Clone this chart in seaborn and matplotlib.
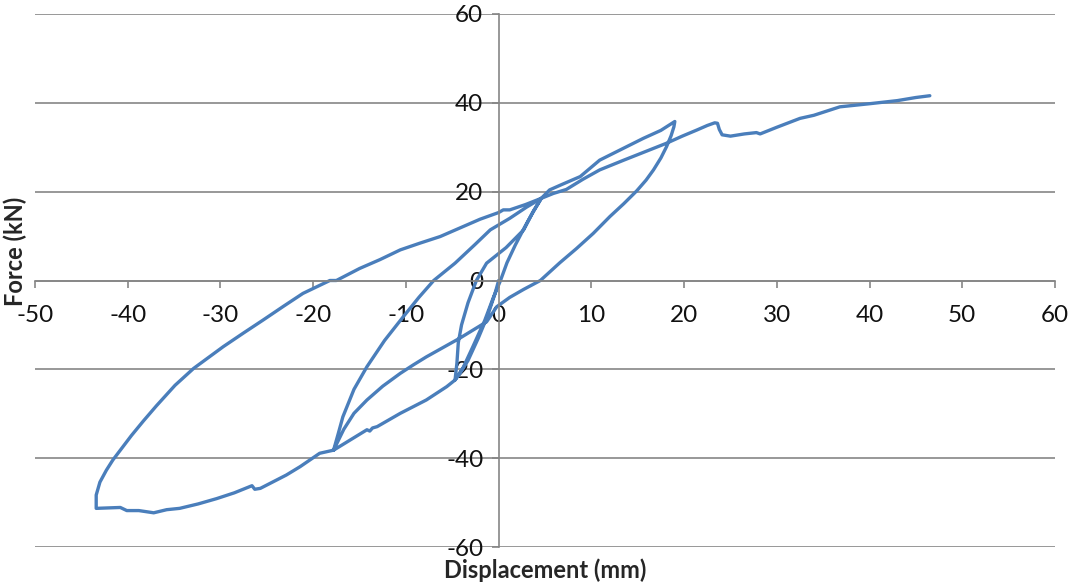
import seaborn as sns
import matplotlib.pyplot as plt
import pandas as pd

# load path, segment by segment (disp in mm, force in kN)
start_x = [0, -0.4, -1.2, -2.2, -3.3, -4.2, -4.7]
start_y = [0, -3, -8, -13, -18, -21, -22.4]

reload1_x = [-4.7, -3.8, -2.8, -1.5, -0.6, 0.2, 0.9, 1.8, 2.8, 3.8, 4.6]
reload1_y = [-22.4, -19.5, -15, -9, -4, 0, 4, 8, 12, 15.8, 18.5]

unload1_x = [4.6, 3.6, 2.7, 0.8, -1.3, -2.4, -3.3, -4.0, -4.35, -4.5, -4.7]
unload1_y = [18.5, 15, 11.4, 7.4, 3.9, 0, -5, -10, -14, -18.6, -22.4]

neg2_x = [-4.7, -5.6, -7.8, -10.6, -13.1, -13.6, -13.9, -14.2, -16.0, -17.8]
neg2_y = [-22.4, -23.9, -26.9, -29.9, -32.9, -33.2, -33.9, -33.6, -35.9, -38.2]

reload2_x = [-17.8, -17.3, -16.8, -15.6, -14.2, -12.3, -10.3, -8.6, -7.0,
             -4.7, -2.6, -0.9, 1.2, 3.0, 4.6]
reload2_y = [-38.2, -34.5, -30.7, -24.5, -19.4, -13.5, -8.2, -3.8, 0,
             3.9, 8, 11.4, 14, 16.5, 18.5]

pos2_x = [4.6, 5.5, 6.8, 8.8, 10.9, 13.1, 15.6, 17.5, 19.0]
pos2_y = [18.5, 20.4, 21.6, 23.4, 27.1, 29.4, 32, 33.8, 35.8]

unload2_x = [19.0, 18.9, 18.6, 18.1, 17.5, 16.7, 15.9, 14.9, 13.5, 12.0,
             10.2, 8.4, 6.6, 4.5, 2.7, 1.2, -0.2, -1.3, -2.8, -4.2, -6.0,
             -7.8, -9.2, -10.6, -12.5, -14.2, -15.6, -16.7, -17.8]
unload2_y = [35.8, 34.6, 32.6, 30.1, 27.6, 24.9, 22.6, 20.2, 17.3, 14.4,
             10.6, 7.2, 4, 0, -2, -3.8, -5.9, -9.3, -11.2, -13, -15.1,
             -17.2, -19.0, -20.9, -23.8, -26.9, -29.9, -33.5, -38.2]

neg3_x = [-17.8, -19.3, -21.4, -22.9, -24.4, -25.7, -26.3, -26.6, -28.5,
          -30.4, -32.4, -34.4, -35.8, -37.2, -38.8, -40.1, -40.8, -42.0, -43.4]
neg3_y = [-38.2, -38.9, -41.9, -43.8, -45.4, -46.8, -47, -46.2, -47.8,
          -49.1, -50.3, -51.3, -51.6, -52.3, -51.8, -51.8, -51.1, -51.2, -51.3]

reload3_x = [-43.4, -43.4, -43.0, -42.3, -41.6, -40.8, -39.6, -38.3, -36.9,
             -34.9, -32.9, -29.7, -27.5, -25.4, -23.2, -21.1, -18.2, -17.5,
             -15.0, -12.8, -10.6, -8.5, -6.3, -4.1, -2.0, 0, 0.5, 1.2, 2.9, 4.6]
reload3_y = [-51.3, -48.3, -45.4, -42.7, -40.4, -38.2, -34.9, -31.6, -28.2,
             -23.6, -19.8, -14.9, -11.8, -8.9, -5.8, -2.9, 0, 0, 2.7, 4.7,
             6.9, 8.4, 9.9, 11.9, 13.8, 15.3, 15.9, 15.9, 17.1, 18.5]

final_x = [4.6, 5.9, 7.3, 9.1, 10.9, 13.5, 15.8, 18.1, 19.8, 21.4, 22.5, 23.3,
           23.6, 23.8, 24.1, 25.0, 26.5, 27.8, 28.2, 30.0, 32.5, 34.0, 36.8,
           40.0, 43.0, 45.0, 46.5]
final_y = [18.5, 19.6, 20.5, 22.8, 24.9, 27.1, 29.0, 30.9, 32.5, 33.9, 34.9,
           35.5, 35.4, 34.0, 32.8, 32.5, 33.0, 33.3, 33.0, 34.5, 36.5, 37.2,
           39.1, 39.8, 40.5, 41.2, 41.6]

x_ticks = [-50, -40, -30, -20, -10, 0, 10, 20, 30, 40, 50, 60]
y_ticks = [-60, -40, -20, 0, 20, 40, 60]

disp = (start_x + reload1_x + unload1_x + neg2_x + reload2_x + pos2_x
        + unload2_x + neg3_x + reload3_x + final_x)
force = (start_y + reload1_y + unload1_y + neg2_y + reload2_y + pos2_y
         + unload2_y + neg3_y + reload3_y + final_y)
df = pd.DataFrame({'disp': disp, 'force': force})

sns.set_style('white')
plt.rcParams['font.family'] = ['Lato', 'DejaVu Sans']

grey = '#868686'
fig = plt.figure(figsize=(10.68, 5.83), dpi=100)
ax = fig.add_axes([35 / 1068, 1 - 547 / 583, 1020 / 1068, 533 / 583])

sns.lineplot(data=df, x='disp', y='force', sort=False, estimator=None,
             color='#4A7EBB', linewidth=2.4, ax=ax)

ax.set_xlim(-50, 60)
ax.set_ylim(-60, 60)
ax.set_xticks(x_ticks)
ax.set_yticks(y_ticks)
ax.set_xticklabels([str(v) for v in x_ticks])
ax.set_yticklabels([str(v) for v in y_ticks])

ax.yaxis.grid(True, color=grey, linewidth=1.2)
ax.xaxis.grid(False)
ax.spines['left'].set_position(('data', 0))
ax.spines['bottom'].set_position(('data', 0))
for s in ['left', 'bottom']:
    ax.spines[s].set_color(grey)
    ax.spines[s].set_linewidth(1.2)
for s in ['top', 'right']:
    ax.spines[s].set_visible(False)

ax.tick_params(axis='x', direction='out', length=5, width=1.2, color=grey,
               pad=13, labelsize=17.5, labelcolor='#111111', bottom=True)
ax.tick_params(axis='y', direction='out', length=5, width=1.2, color=grey,
               pad=6, labelsize=17.5, labelcolor='#111111', left=True)
ax.set_xlabel('')
ax.set_ylabel('')

fig.text(545 / 1068, 1 - 570 / 583, 'Displacement (mm)', ha='center',
         va='center', fontsize=17, fontweight='bold')
fig.text(15 / 1068, 1 - 251 / 583, 'Force (kN)', ha='center', va='center',
         rotation=90, fontsize=17, fontweight='bold')

fig.savefig('out.png', dpi=100)
